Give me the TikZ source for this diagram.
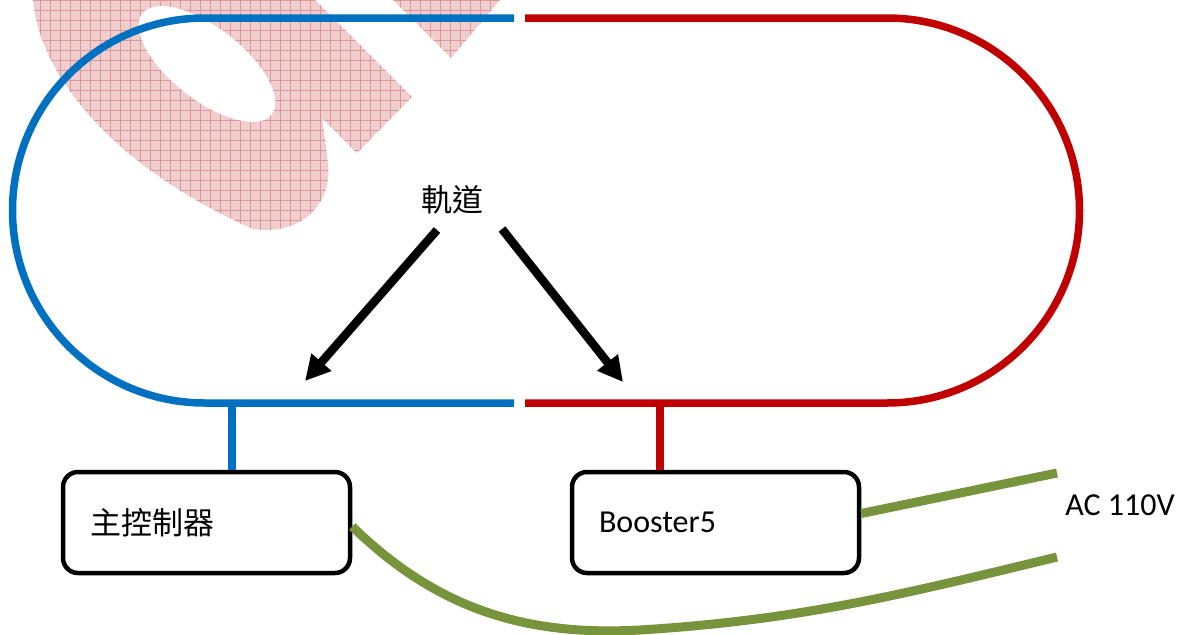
\documentclass[tikz,border=0pt]{standalone}
\usepackage{fontspec}
\setmainfont{Carlito}
\newfontfamily\cjk{Noto Sans CJK TC}
\usetikzlibrary{arrows.meta}
\definecolor{trackblue}{RGB}{0,112,192}
\definecolor{trackred}{RGB}{192,0,0}
\definecolor{wiregreen}{RGB}{119,147,60}
\definecolor{wmfill}{RGB}{240,206,206}
\definecolor{wmline}{RGB}{218,152,156}
\tikzset{
  track/.style={line width=7.5pt},
  box/.style={draw=black, line width=4.5pt, rounded corners=15pt, minimum width=287pt, minimum height=101pt, text width=233pt, inner xsep=27pt, align=left, font=\fontsize{32}{38}\selectfont},
  wire/.style={draw=wiregreen, line width=9pt},
  bigarrow/.style={line width=8.5pt, -{Triangle[length=25pt,width=25pt]}},
  lbl/.style={font=\fontsize{32}{38}\selectfont, inner sep=0pt}
}
\begin{document}
\begin{tikzpicture}[x=1pt,y=-1pt]
\useasboundingbox (0,0) rectangle (1179,635);
% watermark
\def\wmA{(33,0) .. controls (40,80) and (120,170) .. (253,229) .. controls (300,236) and (332,205) .. (328,165) .. controls (326,145) and (324,130) .. (322,118) -- (357,153) -- (412,97) -- (315,0) -- cycle}
\def\wmB{(393,0) -- (451,58) -- (500,0) -- cycle}
\fill[wmfill] \wmA;
\fill[wmfill] \wmB;
\begin{scope}
  \clip \wmA \wmB;
  \draw[wmline, line width=0.6pt, step=10pt] (0,0) grid (520,240);
\end{scope}
\fill[white, rotate around={-38:(207,64)}] (207,64) ellipse [x radius=82pt, y radius=36pt];
% track
\draw[track, trackblue] (514,18) -- (205,18) arc[start angle=90, end angle=270, radius=192.5pt] -- (514,403);
\draw[track, trackred] (525,18) -- (887,18) arc[start angle=90, end angle=-90, radius=192.5pt] -- (525,403);
\coordinate (bt) at (232,403);
\coordinate (rt) at (660,403);
% boxes
\node[box] (ctrl) at (206.5,522.5) {{\cjk\fontsize{31}{37}\selectfont 主控制器}};
\node[box] (boost) at (715.5,522.5) {Booster5};
\draw[track, trackblue] (bt) -- (bt |- ctrl.north);
\draw[track, trackred] (rt) -- (rt |- boost.north);
% label and arrows
\node[lbl, font=\cjk\fontsize{31}{37}\selectfont] (gui) at (452,200) {軌道};
\coordinate (la) at (305,381);
\coordinate (ra) at (623,382);
\draw[bigarrow] (437,230) -- (la);
\draw[bigarrow] (502,229) -- (ra);
% AC
\node[lbl] (ac) at (1120,505) {AC 110V};
\coordinate (acT) at (1057,473);
\coordinate (acB) at (1057,557);
\draw[wire] ([yshift=9pt]boost.east) -- (acT);
\draw[wire] ([yshift=-4pt]ctrl.east) .. controls (440,612) and (530,636) .. (640,630) .. controls (800,620) and (900,595) .. (acB);
\end{tikzpicture}
\end{document}
